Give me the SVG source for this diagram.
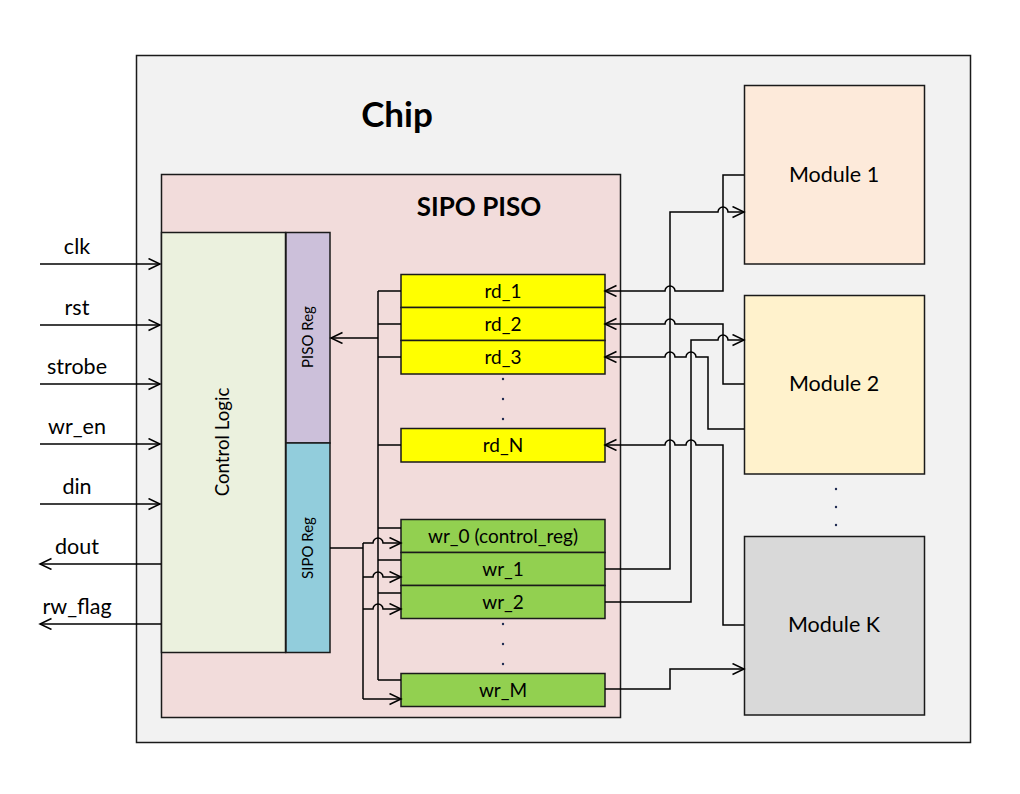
<svg xmlns="http://www.w3.org/2000/svg" width="1020" height="794" viewBox="0 0 1020 794">
<defs>
<marker id="arr" markerUnits="userSpaceOnUse" markerWidth="14" markerHeight="14" refX="12" refY="6" orient="auto">
<path d="M0.5,0.5 L12,6 L0.5,11.5" fill="none" stroke="#000" stroke-width="1.5"/>
</marker>
</defs>
<style>
.box{stroke:#1a1a1a;stroke-width:1.5}
.t{font-family:Lato,"Open Sans",sans-serif;fill:#000}
.lbl{font-size:21.5px;text-anchor:middle}
.reg{font-size:19px;text-anchor:middle}
.mod{font-size:21.5px;text-anchor:middle}
.w{fill:none;stroke:#000;stroke-width:1.5}
.a{marker-end:url(#arr)}
.dot{fill:#1f2a50}
</style>
<rect width="1020" height="794" fill="#fff"/>
<g id="chip">
<rect class="box" x="136.5" y="55.5" width="834" height="687" fill="#f2f2f2"/>
<text class="t" x="397" y="127" font-size="35" font-weight="bold" text-anchor="middle">Chip</text>
</g>
<g id="sipo_piso">
<rect class="box" x="161.5" y="174.5" width="459" height="543" fill="#f2dcdb"/>
<text class="t" x="479" y="216" font-size="26" font-weight="bold" text-anchor="middle">SIPO PISO</text>
</g>
<g id="control_logic">
<rect class="box" x="161.5" y="232.5" width="124" height="420" fill="#ebf1de"/>
<text class="t" x="229" y="442" font-size="18.7" text-anchor="middle" transform="rotate(-90 229 442)">Control Logic</text>
</g>
<g id="piso_reg">
<rect class="box" x="286" y="232.5" width="44" height="210.5" fill="#ccc0da"/>
<text class="t" x="313" y="337" font-size="15" text-anchor="middle" transform="rotate(-90 313 337)">PISO Reg</text>
</g>
<g id="sipo_reg">
<rect class="box" x="286" y="443" width="44" height="209.5" fill="#92cddc"/>
<text class="t" x="313" y="548" font-size="15" text-anchor="middle" transform="rotate(-90 313 548)">SIPO Reg</text>
</g>
<g id="rd_1"><rect class="box" x="401" y="274.5" width="204" height="33" fill="#ffff00"/><text class="t reg" x="503" y="298">rd_1</text></g>
<g id="rd_2"><rect class="box" x="401" y="307.5" width="204" height="33" fill="#ffff00"/><text class="t reg" x="503" y="331">rd_2</text></g>
<g id="rd_3"><rect class="box" x="401" y="340.5" width="204" height="33.5" fill="#ffff00"/><text class="t reg" x="503" y="364">rd_3</text></g>
<g id="rd_N"><rect class="box" x="401" y="428.5" width="204" height="33.5" fill="#ffff00"/><text class="t reg" x="503" y="452">rd_N</text></g>
<g id="wr_0"><rect class="box" x="401" y="519.5" width="204" height="33" fill="#92d050"/><text class="t reg" x="503" y="543">wr_0 (control_reg)</text></g>
<g id="wr_1"><rect class="box" x="401" y="552.5" width="204" height="33" fill="#92d050"/><text class="t reg" x="503" y="576">wr_1</text></g>
<g id="wr_2"><rect class="box" x="401" y="585.5" width="204" height="33" fill="#92d050"/><text class="t reg" x="503" y="609">wr_2</text></g>
<g id="wr_M"><rect class="box" x="401" y="673.5" width="204" height="33" fill="#92d050"/><text class="t reg" x="503" y="697">wr_M</text></g>
<g id="module_1"><rect class="box" x="744.5" y="85.5" width="180" height="178.5" fill="#fdeada"/><text class="t mod" x="834" y="182">Module 1</text></g>
<g id="module_2"><rect class="box" x="744.5" y="295.5" width="180" height="178.5" fill="#fff2cc"/><text class="t mod" x="834" y="391">Module 2</text></g>
<g id="module_K"><rect class="box" x="744.5" y="536.5" width="180" height="178.5" fill="#d9d9d9"/><text class="t mod" x="834" y="632">Module K</text></g>
<g id="dots">
<circle class="dot" cx="503" cy="379" r="1.2"/><circle class="dot" cx="503" cy="399" r="1.2"/><circle class="dot" cx="503" cy="419" r="1.2"/>
<circle class="dot" cx="503" cy="624" r="1.2"/><circle class="dot" cx="503" cy="644" r="1.2"/><circle class="dot" cx="503" cy="664" r="1.2"/>
<circle class="dot" cx="836" cy="489" r="1.2"/><circle class="dot" cx="836" cy="507" r="1.2"/><circle class="dot" cx="836" cy="525" r="1.2"/>
</g>
<g id="signal_labels">
<text class="t lbl" x="77" y="254">clk</text>
<text class="t lbl" x="77" y="315">rst</text>
<text class="t lbl" x="77" y="374">strobe</text>
<text class="t lbl" x="77" y="434">wr_en</text>
<text class="t lbl" x="77" y="494">din</text>
<text class="t lbl" x="77" y="554">dout</text>
<text class="t lbl" x="77" y="614">rw_flag</text>
</g>
<g id="connectors">
<path class="w a" d="M40,264 H160"/>
<path class="w a" d="M40,325 H160"/>
<path class="w a" d="M40,384 H160"/>
<path class="w a" d="M40,444 H160"/>
<path class="w a" d="M40,504 H160"/>
<path class="w a" d="M161,564 H40"/>
<path class="w a" d="M161,624 H40"/>
<path class="w a" d="M378,338 H331" stroke-width="3"/>
<path class="w" d="M378,291 V680" stroke-width="2.2"/>
<path class="w" d="M378,291 H401 M378,324 H401 M378,357 H401 M378,445 H401 M378,528 H401 M378,560 H401 M378,593 H401 M378,680 H401"/>
<path class="w" d="M330,548 H363" stroke-width="3"/>
<path class="w" d="M363,543 V699" stroke-width="2"/>
<path class="w a" d="M363,543 H373 A5,5 0 0 1 383,543 H401"/>
<path class="w a" d="M363,577 H373 A5,5 0 0 1 383,577 H401"/>
<path class="w a" d="M363,609 H373 A5,5 0 0 1 383,609 H401"/>
<path class="w a" d="M363,699 H401"/>
<path class="w a" d="M744,175 H723 V291 H675 A5,5 0 0 0 665,291 H605"/>
<path class="w a" d="M605,569 H670 V212 H718 A5,5 0 0 1 728,212 H744"/>
<path class="w a" d="M744,384 H723 V324 H675 A5,5 0 0 0 665,324 H605"/>
<path class="w a" d="M605,602 H691 V340 H718 A5,5 0 0 1 728,340 H744"/>
<path class="w a" d="M744,429 H708 V357 H696 A5,5 0 0 0 686,357 H675 A5,5 0 0 0 665,357 H605"/>
<path class="w a" d="M744,625 H723 V445 H696 A5,5 0 0 0 686,445 H675 A5,5 0 0 0 665,445 H605"/>
<path class="w a" d="M605,689 H670 V669 H744"/>
</g>
</svg>
